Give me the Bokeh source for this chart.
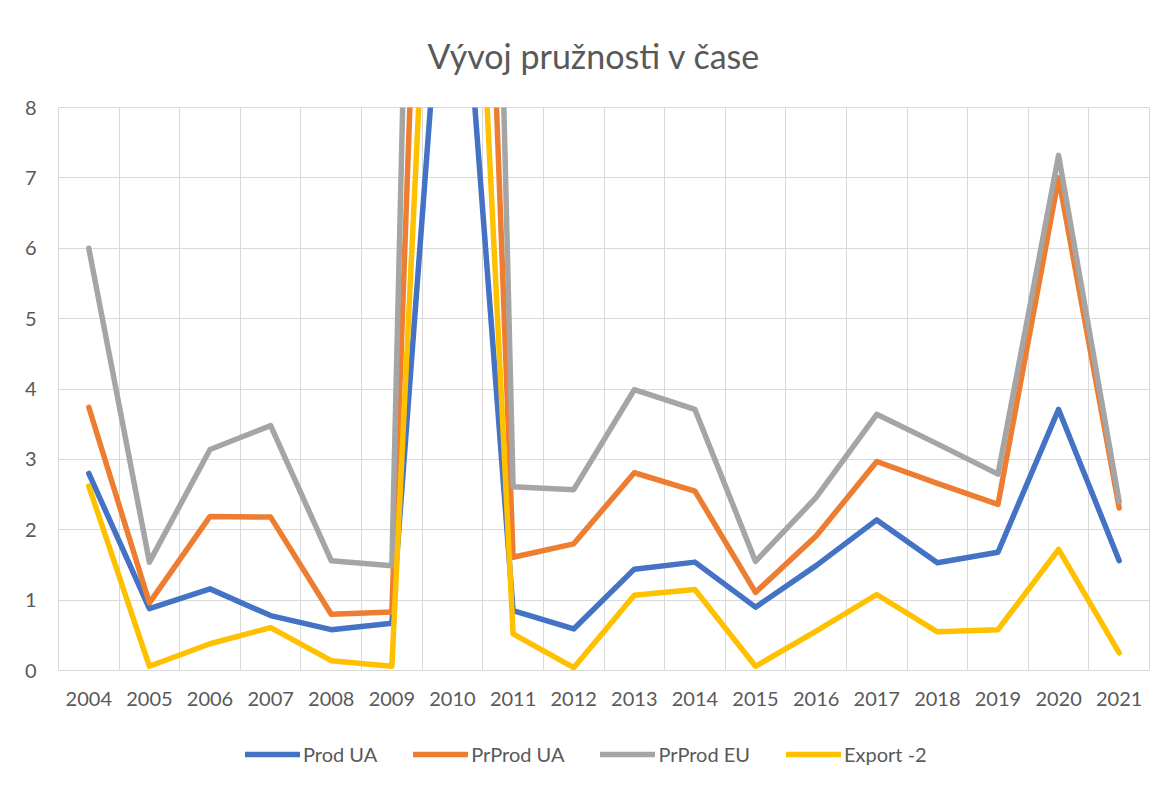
from bokeh.plotting import figure
from bokeh.models import FixedTicker, Range1d, Legend, LegendItem
from bokeh.layouts import column
from bokeh.embed import file_html
from bokeh.resources import INLINE

title_text = "Vývoj pružnosti v čase"
years = ["2004", "2005", "2006", "2007", "2008", "2009", "2010", "2011", "2012",
         "2013", "2014", "2015", "2016", "2017", "2018", "2019", "2020", "2021"]
prod_ua = [2.80, 0.88, 1.16, 0.78, 0.58, 0.67, 12.2, 0.85, 0.59, 1.44, 1.54, 0.90,
           1.49, 2.14, 1.53, 1.68, 3.71, 1.56]
prprod_ua = [3.74, 0.96, 2.19, 2.18, 0.80, 0.83, 25.0, 1.61, 1.80, 2.81, 2.55, 1.11,
             1.91, 2.97, 2.66, 2.36, 7.00, 2.31]
prprod_eu = [6.00, 1.54, 3.14, 3.48, 1.56, 1.49, 38.0, 2.61, 2.57, 3.99, 3.71, 1.55,
             2.46, 3.64, 3.22, 2.79, 7.32, 2.40]
export_2 = [2.62, 0.06, 0.38, 0.61, 0.14, 0.06, 18.0, 0.52, 0.04, 1.07, 1.15, 0.06,
            0.56, 1.08, 0.55, 0.58, 1.72, 0.25]
series_names = ["Prod UA", "PrProd UA", "PrProd EU", "Export -2"]
colors = ["#4472C4", "#ED7D31", "#A5A5A5", "#FFC000"]
y_ticks = [0, 1, 2, 3, 4, 5, 6, 7, 8]

FONT = "Lato"
TXT = "#595959"
GRID = "#D9D9D9"
LW = 5.5
W = 1160
BL, BR = 58, 11
FW = W - BL - BR

n = len(years)
centers = [i + 0.5 for i in range(n)]
all_series = [prod_ua, prprod_ua, prprod_eu, export_2]

# ---- main chart ----
p = figure(width=W, height=720, output_backend="svg", toolbar_location=None,
           x_range=Range1d(0, n), y_range=Range1d(0, 8),
           min_border_left=BL, min_border_right=BR, min_border_top=107, min_border_bottom=50)

p.title.text = title_text
p.title.text_font = FONT
p.title.text_font_size = "34px"
p.title.text_font_style = "normal"
p.title.text_color = TXT
p.title.align = "left"
p.title.offset = 369
p.title.standoff = 64

p.outline_line_color = GRID
p.outline_line_width = 1
p.background_fill_color = "white"
p.border_fill_color = "white"

p.xgrid.ticker = FixedTicker(ticks=list(range(n + 1)))
p.ygrid.ticker = FixedTicker(ticks=y_ticks)
for g in (p.xgrid, p.ygrid):
    g.grid_line_color = GRID
    g.grid_line_width = 1

xa = p.xaxis[0]
xa.ticker = FixedTicker(ticks=centers)
xa.major_label_overrides = {c: y for c, y in zip(centers, years)}
ya = p.yaxis[0]
ya.ticker = FixedTicker(ticks=y_ticks)
for ax in (xa, ya):
    ax.axis_line_color = None
    ax.major_tick_line_color = None
    ax.minor_tick_line_color = None
    ax.major_tick_out = 0
    ax.major_tick_in = 0
    ax.major_label_text_font = FONT
    ax.major_label_text_font_size = "20px"
    ax.major_label_text_color = TXT
xa.major_label_standoff = 21
ya.major_label_standoff = 22

for vals, col in zip(all_series, colors):
    p.line(centers, vals, line_color=col, line_width=LW,
           line_cap="round", line_join="round")

# ---- legend strip (series re-drawn outside its visible range; only the legend shows) ----
lg = figure(width=W, height=67, output_backend="svg", toolbar_location=None,
            x_axis_type=None, y_axis_type=None,
            x_range=Range1d(0, FW), y_range=Range1d(-200, -133),
            min_border_left=BL, min_border_right=BR, min_border_top=0, min_border_bottom=0,
            outline_line_color=None)
lg.grid.visible = False
lg.border_fill_color = "white"
lg.background_fill_color = "white"
proxies = [lg.line(centers, vals, line_color=col, line_width=LW, line_cap="round")
           for vals, col in zip(all_series, colors)]
legend = Legend(items=[LegendItem(label=nm, renderers=[r]) for nm, r in zip(series_names, proxies)],
                orientation="horizontal", location=(187, 21))
legend.label_text_font = FONT
legend.label_text_font_size = "20px"
legend.label_text_color = TXT
legend.glyph_width = 55
legend.glyph_height = 20
legend.label_height = 20
legend.label_standoff = 3
legend.spacing = 36
legend.padding = 0
legend.margin = 0
legend.border_line_color = None
legend.background_fill_alpha = 0
lg.add_layout(legend, "center")

layout = column(p, lg, spacing=0)
open("out.html", "w").write(file_html(layout, INLINE))
